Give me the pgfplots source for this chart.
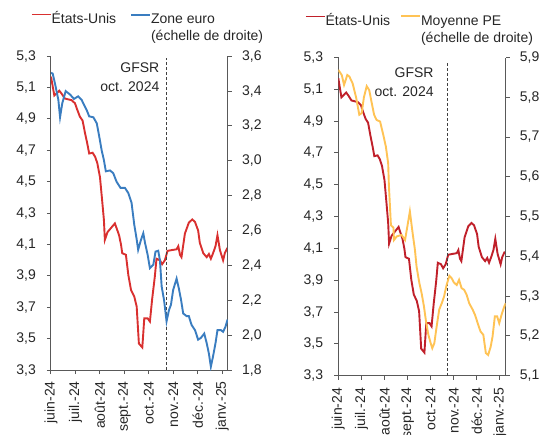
\documentclass[border=0pt]{standalone}
\usepackage{pgfplots}
\pgfplotsset{compat=1.18}
\usepackage{fontspec}
\setmainfont{Liberation Sans}

\definecolor{usred}{HTML}{D9302F}
\definecolor{usdark}{HTML}{C0202A}
\definecolor{eublue}{HTML}{3A7DC0}
\definecolor{peorange}{HTML}{FFC355}
\definecolor{axgray}{HTML}{595959}
\definecolor{txt}{HTML}{262626}

% US yields (same series in both panels), x = months since June 2024
\pgfplotstableread{
m v
0 5.17
0.135 5.05
0.34 5.08
0.44 5.06
0.57 5.03
0.84 5.02
0.98 5.00
1.07 4.96
1.18 4.915
1.29 4.89
1.39 4.81
1.48 4.745
1.56 4.68
1.70 4.685
1.80 4.66
1.89 4.62
2.00 4.53
2.09 4.38
2.16 4.26
2.20 4.13
2.31 4.18
2.42 4.20
2.61 4.235
2.78 4.16
2.86 4.10
2.91 4.045
3.06 4.035
3.16 3.905
3.27 3.81
3.40 3.77
3.50 3.705
3.59 3.47
3.73 3.445
3.81 3.63
3.95 3.63
4.04 3.61
4.13 3.75
4.24 3.895
4.31 4.01
4.45 4.00
4.54 3.975
4.65 4.00
4.76 4.06
4.93 4.065
5.13 4.07
5.20 4.09
5.27 4.035
5.33 4.02
5.47 4.17
5.63 4.24
5.77 4.26
5.88 4.245
6.01 4.19
6.08 4.11
6.22 4.045
6.36 4.02
6.45 4.04
6.53 4.01
6.62 4.045
6.72 4.09
6.80 4.16
6.90 4.065
7.03 4.00
7.10 4.045
7.21 4.08
}\usdata

% euro area (right scale of left panel)
\pgfplotstableread{
m v
0 3.505
0.07 3.50
0.16 3.445
0.30 3.35
0.37 3.25
0.46 3.33
0.60 3.40
0.78 3.38
0.94 3.355
1.11 3.37
1.25 3.35
1.46 3.29
1.56 3.255
1.73 3.25
1.87 3.215
1.97 3.14
2.07 3.06
2.16 3.005
2.24 2.94
2.41 2.945
2.54 2.93
2.68 2.88
2.84 2.845
3.02 2.845
3.16 2.815
3.29 2.76
3.40 2.635
3.50 2.55
3.56 2.49
3.67 2.545
3.77 2.585
3.84 2.53
3.95 2.46
4.04 2.385
4.18 2.405
4.27 2.48
4.38 2.485
4.45 2.43
4.52 2.28
4.62 2.20
4.72 2.08
4.82 2.145
4.90 2.175
4.99 2.26
5.13 2.325
5.22 2.27
5.31 2.205
5.40 2.125
5.54 2.11
5.63 2.11
5.74 2.06
5.88 2.03
6.01 1.975
6.12 1.985
6.26 2.01
6.36 1.955
6.45 1.895
6.53 1.82
6.62 1.88
6.72 1.955
6.80 2.03
6.94 2.03
7.03 2.02
7.13 2.05
7.21 2.09
}\eudata

% emerging Europe average (right scale of right panel)
\pgfplotstableread{
m v
0 5.869
0.15 5.856
0.25 5.831
0.39 5.856
0.48 5.852
0.62 5.835
0.77 5.80
0.91 5.756
1.01 5.76
1.11 5.80
1.23 5.828
1.34 5.818
1.45 5.785
1.55 5.756
1.66 5.743
1.81 5.739
1.95 5.705
2.06 5.676
2.16 5.634
2.19 5.58
2.26 5.50
2.28 5.478
2.39 5.472
2.41 5.441
2.53 5.45
2.74 5.454
2.89 5.441
2.99 5.475
3.10 5.513
3.22 5.458
3.32 5.416
3.39 5.374
3.51 5.333
3.61 5.307
3.71 5.274
3.80 5.236
3.90 5.203
4.00 5.182
4.07 5.169
4.16 5.182
4.26 5.224
4.37 5.266
4.48 5.282
4.58 5.299
4.69 5.328
4.81 5.351
4.91 5.345
5.01 5.334
5.13 5.328
5.23 5.341
5.34 5.32
5.45 5.316
5.56 5.303
5.67 5.282
5.82 5.266
5.92 5.253
6.06 5.228
6.16 5.211
6.28 5.203
6.39 5.157
6.49 5.152
6.60 5.173
6.68 5.198
6.78 5.249
6.88 5.249
6.97 5.232
7.07 5.253
7.19 5.274
7.25 5.282
}\pedata

\pgfplotsset{
  panel/.style={
    scale only axis,
    anchor=south west,
    font=\fontsize{14}{17}\selectfont,
    color=txt,
    xmin=0,
    tick align=outside,
    major tick length=4pt,
    axis line style={axgray, line width=1pt},
    every tick/.style={axgray, line width=1pt},
    /pgf/number format/use comma,
    /pgf/number format/fixed,
    /pgf/number format/fixed zerofill,
    /pgf/number format/precision=1,
    /pgf/number format/assume math mode=true,
    yticklabel style={inner sep=0pt},
    x tick label style={rotate=90, anchor=east, inner sep=0pt},
    xtick={0,1,2,3,4,5,6,7},
    xticklabels={juin-24,juil.-24,août-24,sept.-24,oct.-24,nov.-24,déc.-24,janv.-25},
    legend style={draw=none, fill=none, inner sep=0pt, legend columns=2,
      font=\fontsize{14}{17}\selectfont, nodes={inner sep=0pt}},
    legend cell align=left,
    legend image code/.code={\draw[##1] (0pt,4pt) -- (19pt,4pt);},
  },
}

\begin{document}
\begin{tikzpicture}
\useasboundingbox (0,0) rectangle (542pt,435pt);

% ---- left panel: US vs euro area ----
\begin{axis}[panel, at={(51pt,64.8pt)}, width=177pt, height=314pt,
  xmax=7.23, ymin=3.3, ymax=5.3,
  ytick={3.3,3.5,3.7,3.9,4.1,4.3,4.5,4.7,4.9,5.1,5.3},
  axis x line*=bottom, axis y line*=left,
  yticklabel shift=11pt, xticklabel shift=7pt]
\addplot[usred, line width=1.9pt] table[x=m, y=v] {\usdata};
\addplot[black!75, densely dashed, line width=1.3pt] coordinates {(4.72,3.3) (4.72,5.29)};
\node[anchor=north east, align=right, inner sep=0pt, xshift=-7pt,
  font=\fontsize{14}{19.3}\selectfont] at (axis cs:4.72,5.261) {GFSR\\oct. 2024};
\end{axis}
\begin{axis}[panel, at={(51pt,64.8pt)}, width=177pt, height=314pt,
  xmax=7.23, ymin=1.8, ymax=3.6,
  ytick={1.8,2.0,2.2,2.4,2.6,2.8,3.0,3.2,3.4,3.6},
  axis x line=none, axis y line*=right, yticklabel shift=10pt,
  legend style={at={(axis description cs:-0.113,1.142)}, anchor=north west,
    /tikz/every even column/.append style={column sep=14pt}}]
\addlegendimage{usred, line width=1.4pt}
\addlegendentry{États-Unis}
\addplot[eublue, line width=1.9pt] table[x=m, y=v] {\eudata};
\addlegendentry{\begin{tabular}[t]{@{}l@{}}Zone euro\\(échelle de droite)\end{tabular}}
\end{axis}

% ---- right panel: US vs emerging Europe ----
\begin{axis}[panel, at={(338.3pt,59.3pt)}, width=167.4pt, height=318.2pt,
  xmax=7.25, ymin=3.3, ymax=5.3,
  ytick={3.3,3.5,3.7,3.9,4.1,4.3,4.5,4.7,4.9,5.1,5.3},
  axis x line*=bottom, axis y line*=left,
  yticklabel shift=11pt, xticklabel shift=8pt]
\addplot[usdark, line width=1.9pt] table[x=m, y=v] {\usdata};
\addplot[black!75, densely dashed, line width=1.3pt] coordinates {(4.72,3.3) (4.72,5.265)};
\node[anchor=north east, align=right, inner sep=0pt, xshift=-13.5pt,
  font=\fontsize{14}{19}\selectfont] at (axis cs:4.72,5.234) {GFSR\\oct. 2024};
\end{axis}
\begin{axis}[panel, at={(338.3pt,59.3pt)}, width=167.4pt, height=318.2pt,
  xmax=7.25, ymin=5.1, ymax=5.9,
  ytick={5.1,5.2,5.3,5.4,5.5,5.6,5.7,5.8,5.9},
  axis x line=none, axis y line*=right, yticklabel shift=10pt,
  legend style={at={(axis description cs:-0.199,1.139)}, anchor=north west,
    /tikz/every even column/.append style={column sep=10pt}}]
\addlegendimage{usdark, line width=1.4pt}
\addlegendentry{États-Unis}
\addplot[peorange, line width=1.9pt] table[x=m, y=v] {\pedata};
\addlegendentry{\begin{tabular}[t]{@{}l@{}}Moyenne PE\\(échelle de droite)\end{tabular}}
\end{axis}
\end{tikzpicture}
\end{document}
